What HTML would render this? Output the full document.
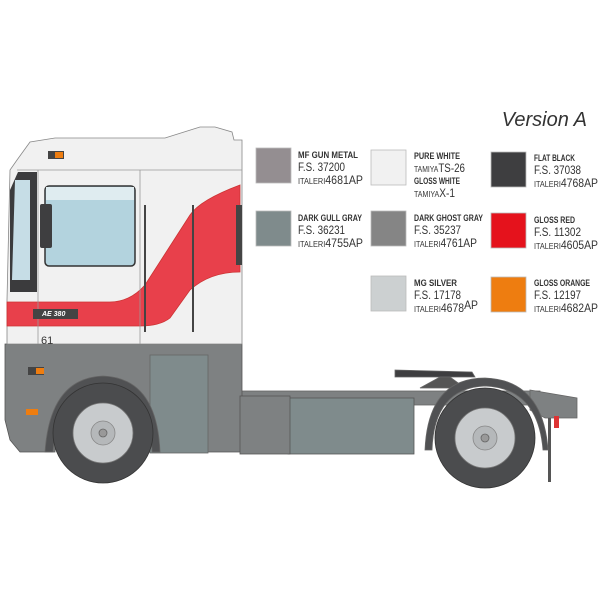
<!DOCTYPE html>
<html><head><meta charset="utf-8"><style>
html,body{margin:0;padding:0;background:#fff;width:600px;height:600px;overflow:hidden}
svg{display:block}
.t{font-family:"Liberation Sans",sans-serif;fill:#333}
.h{font-weight:bold;font-size:9.5px}
.n{font-size:11.5px}
</style></head><body>
<svg width="600" height="600" viewBox="0 0 600 600" xmlns="http://www.w3.org/2000/svg">
<text x="587" y="126" text-anchor="end" class="t" style="font-size:20px;font-style:italic">Version A</text>

<g stroke="#bbb" stroke-width="0.8">
<rect x="256" y="148" width="35" height="35" fill="#948e91"/>
<rect x="256" y="211" width="35" height="35" fill="#7f8b8c"/>
<rect x="371" y="150" width="35" height="35" fill="#f1f1f1"/>
<rect x="371" y="211" width="35" height="35" fill="#858585"/>
<rect x="371" y="276" width="35" height="35" fill="#ccd0d1"/>
<rect x="491" y="152" width="35" height="35" fill="#3e3e40"/>
<rect x="491" y="213" width="35" height="35" fill="#e5121c"/>
<rect x="491" y="277" width="35" height="35" fill="#ee7d10"/>
</g>
<g class="t">
<text x="298" y="158" class="h" textLength="60" lengthAdjust="spacingAndGlyphs">MF GUN METAL</text>
<text x="298" y="171" class="n" textLength="47" lengthAdjust="spacingAndGlyphs">F.S. 37200</text>
<text x="298" y="184" class="n" textLength="65" lengthAdjust="spacingAndGlyphs"><tspan font-size="8">ITALERI</tspan>4681AP</text>
<text x="298" y="221" class="h" textLength="64" lengthAdjust="spacingAndGlyphs">DARK GULL GRAY</text>
<text x="298" y="234" class="n" textLength="47" lengthAdjust="spacingAndGlyphs">F.S. 36231</text>
<text x="298" y="247" class="n" textLength="65" lengthAdjust="spacingAndGlyphs"><tspan font-size="8">ITALERI</tspan>4755AP</text>

<text x="414" y="159" class="h" textLength="46" lengthAdjust="spacingAndGlyphs">PURE WHITE</text>
<text x="414" y="172" class="n" textLength="51" lengthAdjust="spacingAndGlyphs"><tspan font-size="8">TAMIYA</tspan>TS-26</text>
<text x="414" y="184" class="h" textLength="46" lengthAdjust="spacingAndGlyphs">GLOSS WHITE</text>
<text x="414" y="197" class="n" textLength="41" lengthAdjust="spacingAndGlyphs"><tspan font-size="8">TAMIYA</tspan>X-1</text>
<text x="414" y="221" class="h" textLength="69" lengthAdjust="spacingAndGlyphs">DARK GHOST GRAY</text>
<text x="414" y="234" class="n" textLength="47" lengthAdjust="spacingAndGlyphs">F.S. 35237</text>
<text x="414" y="247" class="n" textLength="63" lengthAdjust="spacingAndGlyphs"><tspan font-size="8">ITALERI</tspan>4761AP</text>
<text x="414" y="286" class="h" textLength="43" lengthAdjust="spacingAndGlyphs">MG SILVER</text>
<text x="414" y="299" class="n" textLength="47" lengthAdjust="spacingAndGlyphs">F.S. 17178</text>
<text x="414" y="312" class="n" textLength="64" lengthAdjust="spacingAndGlyphs"><tspan font-size="8">ITALERI</tspan>4678<tspan dy="-3">AP</tspan></text>

<text x="534" y="161" class="h" textLength="41" lengthAdjust="spacingAndGlyphs">FLAT BLACK</text>
<text x="534" y="174" class="n" textLength="47" lengthAdjust="spacingAndGlyphs">F.S. 37038</text>
<text x="534" y="187" class="n" textLength="64" lengthAdjust="spacingAndGlyphs"><tspan font-size="8">ITALERI</tspan>4768AP</text>
<text x="534" y="223" class="h" textLength="41" lengthAdjust="spacingAndGlyphs">GLOSS RED</text>
<text x="534" y="236" class="n" textLength="47" lengthAdjust="spacingAndGlyphs">F.S. 11302</text>
<text x="534" y="249" class="n" textLength="64" lengthAdjust="spacingAndGlyphs"><tspan font-size="8">ITALERI</tspan>4605AP</text>
<text x="534" y="286" class="h" textLength="56" lengthAdjust="spacingAndGlyphs">GLOSS ORANGE</text>
<text x="534" y="299" class="n" textLength="47" lengthAdjust="spacingAndGlyphs">F.S. 12197</text>
<text x="534" y="312" class="n" textLength="64" lengthAdjust="spacingAndGlyphs"><tspan font-size="8">ITALERI</tspan>4682AP</text>
</g>

<g stroke="#666" stroke-width="0.8">
<rect x="240" y="391" width="300" height="14" fill="#7e8182"/>
<rect x="288" y="398" width="126" height="56" fill="#7f8b8c" stroke="#555"/>
<path d="M395 370 L472 372 L475 377 L395 377Z" fill="#3e3e40"/>
<path d="M420 388 L440 377 L450 377 L465 388Z" fill="#555"/>
<path d="M530 390 L577 398 L577 418 L545 418 L530 410Z" fill="#7e8182"/>
<rect x="548" y="418" width="3" height="64" fill="#555" stroke="none"/>
<rect x="554" y="416" width="5" height="12" fill="#d33" stroke="none"/>
<path d="M425 450 Q428 378 485 378 Q543 380 548 450 L543 450 Q538 388 485 386 Q434 388 432 450Z" fill="#505153"/>
<circle cx="485" cy="438" r="50" fill="#4b4c4e" stroke="#333"/>
<circle cx="485" cy="438" r="30" fill="#c8cbcd" stroke="#777"/>
<circle cx="485" cy="438" r="12" fill="#b5b8ba" stroke="#888"/>
<circle cx="485" cy="438" r="4" fill="#999"/>

<path d="M5 344 L242 344 L242 452 L150 452 Q152 385 103 383 Q55 385 55 452 L20 452 L10 440 L5 420Z" fill="#7e8182" stroke="#555"/>
<rect x="150" y="355" width="58" height="98" fill="#7f8b8c" stroke="#666"/>
<rect x="28" y="367" width="16" height="8" fill="#444" stroke="none"/>
<rect x="36" y="368" width="8" height="6" fill="#ee7d10" stroke="none"/>
<rect x="26" y="409" width="12" height="6" fill="#ee7d10" stroke="none"/>
<rect x="270" y="424" width="10" height="5" fill="#ee7d10" stroke="none"/>
<rect x="240" y="396" width="50" height="58" fill="#7e8182" stroke="#555"/>
<path d="M45 452 Q50 378 103 376 Q157 378 160 452 L152 452 Q150 386 103 384 Q58 386 53 452Z" fill="#505153"/>
<circle cx="103" cy="433" r="50" fill="#4b4c4e" stroke="#333"/>
<circle cx="103" cy="433" r="30" fill="#c8cbcd" stroke="#777"/>
<circle cx="103" cy="433" r="12" fill="#b5b8ba" stroke="#888"/>
<circle cx="103" cy="433" r="4" fill="#999"/>

<path d="M17 160 L30 142 L55 138 L165 138 L200 127 L215 127 L232 132 L234 140 L242 140 L242 344 L7 344 L7 300 L10 170Z" fill="#f1f1f1" stroke="#888"/>
<line x1="17" y1="170" x2="242" y2="170" stroke="#999"/>
<path d="M7 302 L110 302 Q130 302 145 285 L190 215 Q200 200 240 185 L240 272 Q210 272 190 290 L170 318 Q160 326 140 326 L7 326Z" fill="#e8404b" stroke="#c33"/>
<path d="M18 172 L37 172 L37 292 L10 292 L10 190Z" fill="#3b3b3d" stroke="none"/>
<path d="M15 180 L30 180 L30 280 L12 280Z" fill="#c6dde6" stroke="none"/>
<rect x="45" y="186" width="90" height="80" rx="4" fill="#b3d3de" stroke="#333" stroke-width="1.5"/>
<rect x="46" y="187" width="88" height="13" fill="#dfecf0" stroke="none"/>
<rect x="40" y="204" width="12" height="44" rx="2" fill="#3e3e40" stroke="none"/>
<line x1="38" y1="170" x2="38" y2="344" stroke="#999"/>
<line x1="140" y1="170" x2="140" y2="344" stroke="#999"/>
<line x1="145" y1="205" x2="145" y2="332" stroke="#444" stroke-width="2"/>
<line x1="193" y1="205" x2="193" y2="332" stroke="#444" stroke-width="2"/>
<rect x="236" y="205" width="6" height="60" fill="#444" stroke="none"/>
<rect x="48" y="151" width="16" height="8" fill="#444" stroke="none"/>
<rect x="55" y="152" width="8" height="6" fill="#ee7d10" stroke="none"/>
<rect x="33" y="309" width="45" height="10" fill="#444" stroke="none"/>
<text x="42" y="316" style="font:bold italic 7px 'Liberation Sans',sans-serif;fill:#fff" stroke="none">AE 380</text>
<text x="41" y="344" style="font:11px 'Liberation Sans',sans-serif;fill:#333" stroke="none">61</text>
</g>
</svg>
</body></html>
